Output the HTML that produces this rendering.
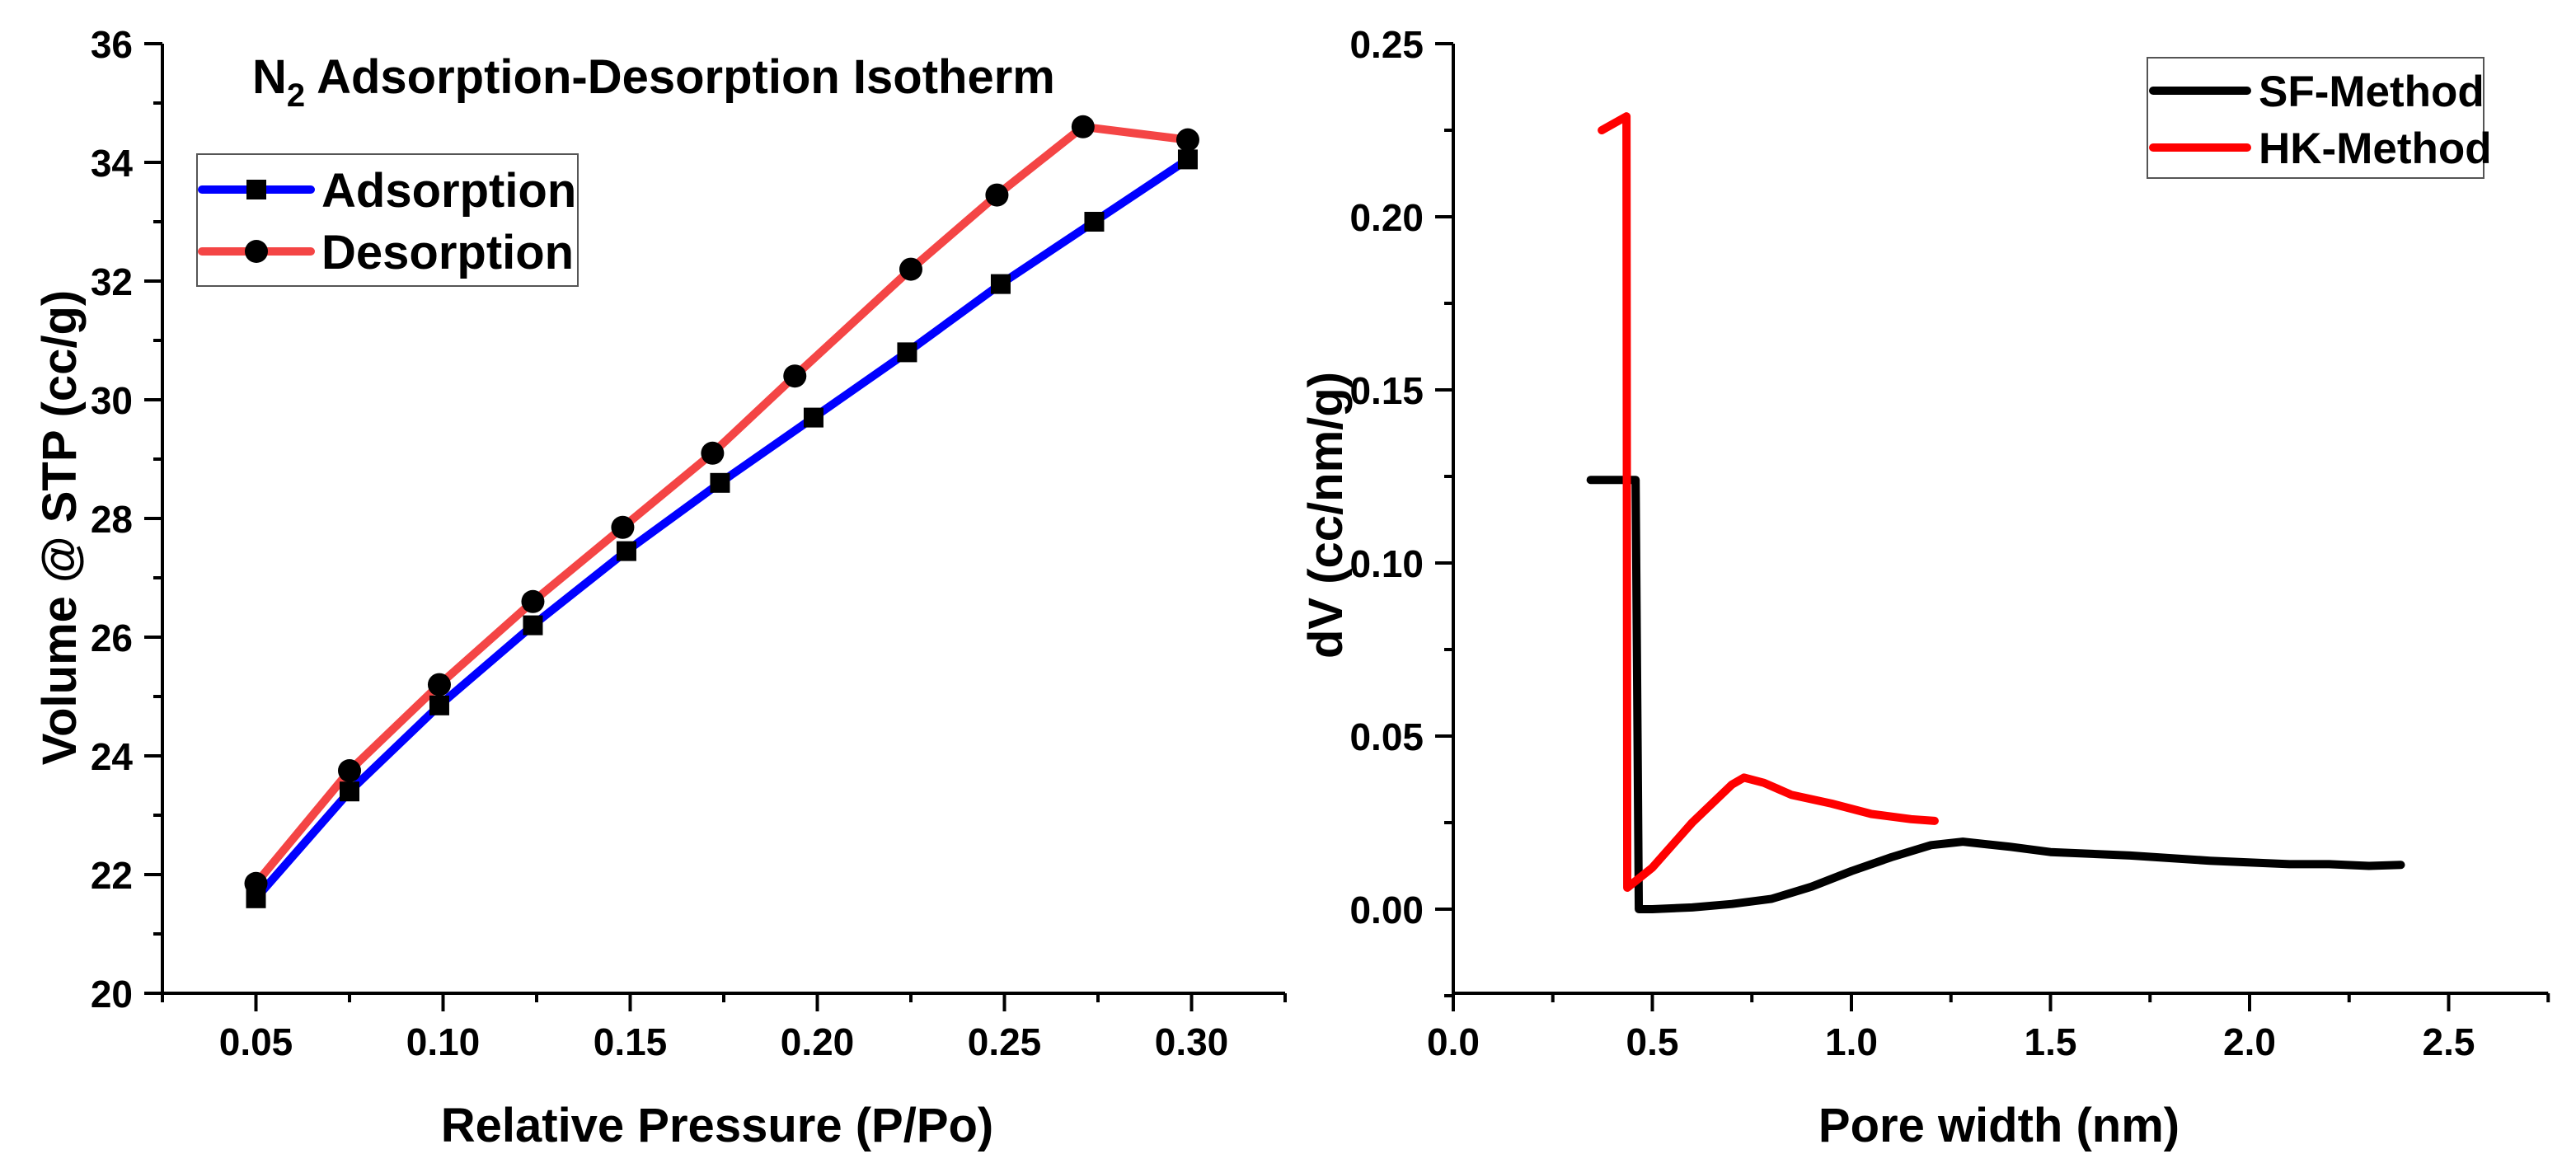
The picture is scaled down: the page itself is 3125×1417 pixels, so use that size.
<!DOCTYPE html>
<html><head><meta charset="utf-8"><style>
html,body{margin:0;padding:0;background:#fff;}
svg{display:block;font-family:"Liberation Sans",Arial,sans-serif;font-weight:bold;}
</style></head><body>
<svg id="fig" width="3125" height="1417" viewBox="0 0 3125 1417" xmlns="http://www.w3.org/2000/svg">
<g id="left"></g>
<g id="right"></g>
</svg>
<script>
// Left chart data
const adsX = [0.05,0.075,0.099,0.124,0.149,0.174,0.199,0.224,0.249,0.274,0.299];
const adsY = [21.6,23.4,24.85,26.2,27.45,28.6,29.7,30.8,31.95,33.0,34.05];
const desX = [0.05,0.075,0.099,0.124,0.148,0.172,0.194,0.225,0.248,0.271,0.299];
const desY = [21.85,23.75,25.2,26.6,27.85,29.1,30.4,32.2,33.45,34.6,34.38];
const leftXTicks = ["0.05","0.10","0.15","0.20","0.25","0.30"];
const leftYTicks = ["20","22","24","26","28","30","32","34","36"];
// Right chart data
const sfX = [0.345,0.458,0.466,0.5,0.6,0.7,0.8,0.9,1.0,1.1,1.2,1.28,1.4,1.5,1.7,1.9,2.1,2.2,2.3,2.38];
const sfY = [0.124,0.124,0.0,0.0,0.0005,0.0015,0.003,0.0065,0.011,0.015,0.0185,0.0195,0.018,0.0165,0.0155,0.014,0.013,0.013,0.0125,0.0128];
const hkX = [0.373,0.435,0.437,0.5,0.6,0.7,0.73,0.78,0.85,0.95,1.05,1.15,1.209];
const hkY = [0.225,0.229,0.0062,0.012,0.025,0.036,0.038,0.0365,0.033,0.0305,0.0275,0.026,0.0255];
const rightXTicks = ["0.0","0.5","1.0","1.5","2.0","2.5"];
const rightYTicks = ["0.00","0.05","0.10","0.15","0.20","0.25"];

const NS="http://www.w3.org/2000/svg";
function mk(parent,tag,attrs,text){const e=document.createElementNS(NS,tag);for(const k in attrs)e.setAttribute(k,attrs[k]);if(text!==undefined)e.textContent=text;parent.appendChild(e);return e;}

// ---------- LEFT ----------
const L=document.getElementById('left');
const lx=v=>197+(v-0.025)*4540;
const ly=v=>1205-(v-20)*72;
let e;
e=mk(L,'line',{x1:197,y1:1205,x2:lx(0.325),y2:1205,stroke:'#000','stroke-width':4});


e=mk(L,'line',{x1:197,y1:53,x2:197,y2:1207,stroke:'#000','stroke-width':4});


for(let i=0;i<=12;i++){const v=0.025+i*0.025;const major=(i%2===1);
 e=mk(L,'line',{x1:lx(v),y1:1205,x2:lx(v),y2:1205+(major?22:11),stroke:'#000','stroke-width':4});
 
 }
leftXTicks.forEach(t=>{e=mk(L,'text',{x:lx(parseFloat(t)),y:1280,'font-size':46,'text-anchor':'middle'},t);
 
 });
for(let v=20;v<=36;v++){const major=(v%2===0);
 e=mk(L,'line',{x1:197,y1:ly(v),x2:197-(major?22:11),y2:ly(v),stroke:'#000','stroke-width':4});
 
 }
leftYTicks.forEach(t=>{e=mk(L,'text',{x:161,y:ly(parseFloat(t))+17,'font-size':46,'text-anchor':'end'},t);
 
 });
e=mk(L,'text',{x:870,y:1385,'font-size':58,'text-anchor':'middle'},'Relative Pressure (P/Po)');


e=mk(L,'text',{x:0,y:0,'font-size':58,'text-anchor':'middle',transform:'translate(92,640) rotate(-90)'},'Volume @ STP (cc/g)');


e=mk(L,'text',{x:306,y:113,'font-size':58});


mk(e,'tspan',{},'N');mk(e,'tspan',{dy:16,'font-size':40},'2');mk(e,'tspan',{dy:-16},' Adsorption-Desorption Isotherm');

function pts(xs,ys,fx,fy){return xs.map((x,i)=>fx(x)+','+fy(ys[i])).join(' ');}
e=mk(L,'polyline',{points:pts(desX,desY,lx,ly),fill:'none',stroke:'#f44545','stroke-width':10,'stroke-linejoin':'round'});


e=mk(L,'polyline',{points:pts(adsX,adsY,lx,ly),fill:'none',stroke:'#0000ff','stroke-width':10,'stroke-linejoin':'round'});


desX.forEach((x,i)=>{e=mk(L,'circle',{cx:lx(x),cy:ly(desY[i]),r:14,fill:'#000'});
 
 });
adsX.forEach((x,i)=>{e=mk(L,'rect',{x:lx(x)-12,y:ly(adsY[i])-12,width:24,height:24,fill:'#000'});
 
 });
// left legend
const LL=mk(L,'g',{});


mk(LL,'rect',{x:239,y:187,width:462,height:160,fill:'#fff',stroke:'#555','stroke-width':2});
e=mk(LL,'line',{x1:245,y1:230,x2:377,y2:230,stroke:'#0000ff','stroke-width':10,'stroke-linecap':'round'});


mk(LL,'rect',{x:299,y:218,width:24,height:24,fill:'#000'});
mk(LL,'text',{x:390,y:251,'font-size':58},'Adsorption');
e=mk(LL,'line',{x1:245,y1:305,x2:377,y2:305,stroke:'#f44545','stroke-width':10,'stroke-linecap':'round'});


mk(LL,'circle',{cx:311,cy:305,r:14,fill:'#000'});
mk(LL,'text',{x:390,y:326,'font-size':58},'Desorption');

// ---------- RIGHT ----------
const R=document.getElementById('right');
const rx=v=>1763+v*483;
const ry=v=>1103-v*4200;
e=mk(R,'line',{x1:1763,y1:1205,x2:rx(2.75),y2:1205,stroke:'#000','stroke-width':4});


e=mk(R,'line',{x1:1763,y1:53,x2:1763,y2:1207,stroke:'#000','stroke-width':4});


for(let i=0;i<=11;i++){const v=i*0.25;const major=(i%2===0);
 e=mk(R,'line',{x1:rx(v),y1:1205,x2:rx(v),y2:1205+(major?22:11),stroke:'#000','stroke-width':4});
 
 }
rightXTicks.forEach(t=>{e=mk(R,'text',{x:rx(parseFloat(t)),y:1280,'font-size':46,'text-anchor':'middle'},t);
 
 });
for(let i=-1;i<=10;i++){const v=i*0.025;const major=(i%2===0);
 e=mk(R,'line',{x1:1763,y1:ry(v),x2:1763-(major?22:11),y2:ry(v),stroke:'#000','stroke-width':4});
 
 }
rightYTicks.forEach(t=>{e=mk(R,'text',{x:1727,y:ry(parseFloat(t))+17,'font-size':46,'text-anchor':'end'},t);
 
 });
e=mk(R,'text',{x:2425,y:1385,'font-size':58,'text-anchor':'middle'},'Pore width (nm)');


e=mk(R,'text',{x:0,y:0,'font-size':58,'text-anchor':'middle',transform:'translate(1628,625) rotate(-90)'},'dV (cc/nm/g)');


e=mk(R,'polyline',{points:pts(sfX,sfY,rx,ry),fill:'none',stroke:'#000','stroke-width':10,'stroke-linejoin':'round','stroke-linecap':'round'});


e=mk(R,'polyline',{points:pts(hkX,hkY,rx,ry),fill:'none',stroke:'#ff0000','stroke-width':10,'stroke-linejoin':'round','stroke-linecap':'round'});


const RL=mk(R,'g',{});


mk(RL,'rect',{x:2605,y:70,width:408,height:146,fill:'#fff',stroke:'#555','stroke-width':2});
e=mk(RL,'line',{x1:2612,y1:110,x2:2726,y2:110,stroke:'#000','stroke-width':10,'stroke-linecap':'round'});


mk(RL,'text',{x:2740,y:129,'font-size':53},'SF-Method');
e=mk(RL,'line',{x1:2612,y1:179,x2:2726,y2:179,stroke:'#ff0000','stroke-width':10,'stroke-linecap':'round'});


mk(RL,'text',{x:2740,y:198,'font-size':53},'HK-Method');
</script>
</body></html>
